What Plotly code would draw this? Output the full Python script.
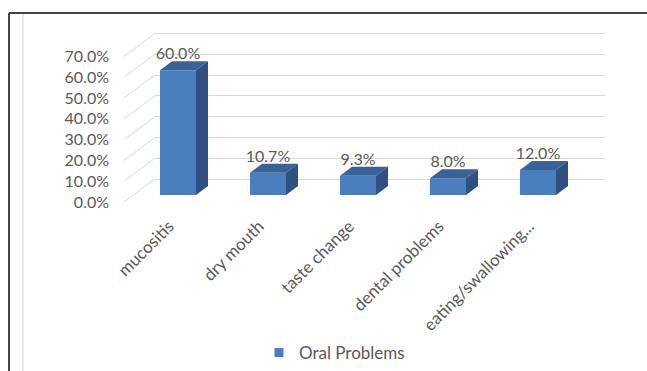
import plotly.graph_objects as go

# ---------------- data ----------------
categories = ["mucositis", "dry mouth", "taste change", "dental problems", "eating/swallowing..."]
values = [60.0, 10.7, 9.3, 8.0, 12.0]
y_ticks = [0, 10, 20, 30, 40, 50, 60, 70]
y_tick_labels = [f"{t:.1f}%" for t in y_ticks]
value_labels = [f"{v:.1f}%" for v in values]
series_name = "Oral Problems"

# ---------------- geometry (pixels) ----------------
W, H = 647, 371
PPC = 90.0    # px per category
PPP = 2.08    # px per percent
XR = [-0.5, 4.5]
YR = [-1, 78]
BAR_W = 0.4
DEPTH_PX = (12, 9)      # 3D depth of bars (right, up)
DX = DEPTH_PX[0] / PPC
DY = DEPTH_PX[1] / PPP

BACK = (155, 179)       # pixel of (category -0.5, 0%) on back wall
BARP = (133, 195)       # bar front plane
FRONT = (124, 202)      # front labels plane

def xdom(p):
    x0 = p[0]
    return [(x0 + (XR[0] + 0.5) * PPC) / W, (x0 + (XR[1] + 0.5) * PPC) / W]

def ydom(p):
    y0 = p[1]
    return [1 - (y0 - YR[0] * PPP) / H, 1 - (y0 - YR[1] * PPP) / H]

FRONT_C = "#4A7EBF"
SIDE_C = "#2F5081"
TOP_C = "#3A6198"
TXT = "#595959"
FONT = "Lato"

fig = go.Figure()

xs = list(range(len(categories)))

# front faces
fig.add_trace(go.Bar(x=xs, y=values, width=BAR_W, marker=dict(color=FRONT_C, line=dict(width=0)),
                     xaxis="x2", yaxis="y2", showlegend=False, hoverinfo="skip"))

# top & side faces, derived from values
for i, v in zip(xs, values):
    l, r = i - BAR_W / 2, i + BAR_W / 2
    fig.add_trace(go.Scatter(
        x=[l, r, r + DX, l + DX, l], y=[v, v, v + DY, v + DY, v],
        fill="toself", fillcolor=TOP_C, mode="lines", line=dict(width=0, color=TOP_C),
        xaxis="x2", yaxis="y2", showlegend=False, hoverinfo="skip"))
    fig.add_trace(go.Scatter(
        x=[r, r + DX, r + DX, r, r], y=[0, DY, v + DY, v, 0],
        fill="toself", fillcolor=SIDE_C, mode="lines", line=dict(width=0, color=SIDE_C),
        xaxis="x2", yaxis="y2", showlegend=False, hoverinfo="skip"))

# value labels
fig.add_trace(go.Scatter(
    x=xs, y=[v + DY - 1.0 for v in values], text=value_labels, mode="text",
    textposition="top center", textfont=dict(family=FONT, size=16, color=TXT),
    xaxis="x2", yaxis="y2", showlegend=False, hoverinfo="skip", cliponaxis=False))

# back wall dummy (for gridlines)
fig.add_trace(go.Scatter(x=[None], y=[None], xaxis="x", yaxis="y", showlegend=False, hoverinfo="skip"))

# legend entry on front plane axes
fig.add_trace(go.Scatter(x=[None], y=[None], mode="markers", name=series_name,
                         marker=dict(symbol="square", size=9, color=FRONT_C),
                         xaxis="x3", yaxis="y3", hoverinfo="skip"))

base_ax = dict(showgrid=False, zeroline=False, showline=False, ticks="",
               showticklabels=False, fixedrange=True, automargin=False)

shapes = []
# side wall diagonals
for t in y_ticks:
    shapes.append(dict(type="line", xref="paper", yref="paper",
                       x0=FRONT[0] / W, y0=1 - (FRONT[1] - t * PPP) / H,
                       x1=BACK[0] / W, y1=1 - (BACK[1] - t * PPP) / H,
                       line=dict(color="#d9d9d9", width=1), layer="below"))
# chart frame
shapes.append(dict(type="line", xref="paper", yref="paper", x0=9 / W, x1=9 / W, y0=0, y1=1 - 13 / H,
                   line=dict(color="#444444", width=2)))
shapes.append(dict(type="line", xref="paper", yref="paper", x0=9 / W, x1=1, y0=1 - 13 / H, y1=1 - 13 / H,
                   line=dict(color="#444444", width=2)))
shapes.append(dict(type="line", xref="paper", yref="paper", x0=23 / W, x1=23 / W, y0=0, y1=1 - 14 / H,
                   line=dict(color="#e3e3e3", width=1.5)))

fig.update_layout(
    width=W, height=H, autosize=False,
    margin=dict(l=0, r=0, t=0, b=0, pad=0),
    paper_bgcolor="white", plot_bgcolor="rgba(0,0,0,0)",
    font=dict(family=FONT, color=TXT),
    xaxis=dict(base_ax, domain=xdom(BACK), range=XR, anchor="y"),
    yaxis=dict(base_ax, domain=ydom(BACK), range=YR, anchor="x",
               showgrid=True, gridcolor="#d9d9d9", gridwidth=1, tickvals=y_ticks),
    xaxis2=dict(base_ax, domain=xdom(BARP), range=XR, anchor="y2"),
    yaxis2=dict(base_ax, domain=ydom(BARP), range=YR, anchor="x2"),
    xaxis3=dict(base_ax, domain=xdom(FRONT), range=XR, anchor="y3",
                showticklabels=True, tickvals=xs, ticktext=categories, tickangle=-45,
                tickfont=dict(family=FONT, size=17, color=TXT), ticklabelstandoff=8),
    yaxis3=dict(base_ax, domain=ydom(FRONT), range=YR, anchor="x3",
                showticklabels=True, tickvals=y_ticks, ticktext=y_tick_labels,
                tickfont=dict(family=FONT, size=16, color=TXT), ticklabelstandoff=14),
    legend=dict(orientation="h", x=259 / W, xanchor="left", y=1 - 353 / H, yanchor="middle",
                font=dict(family=FONT, size=17, color=TXT), bgcolor="rgba(0,0,0,0)"),
    shapes=shapes,
    showlegend=True,
)

fig.write_html("out.html")
